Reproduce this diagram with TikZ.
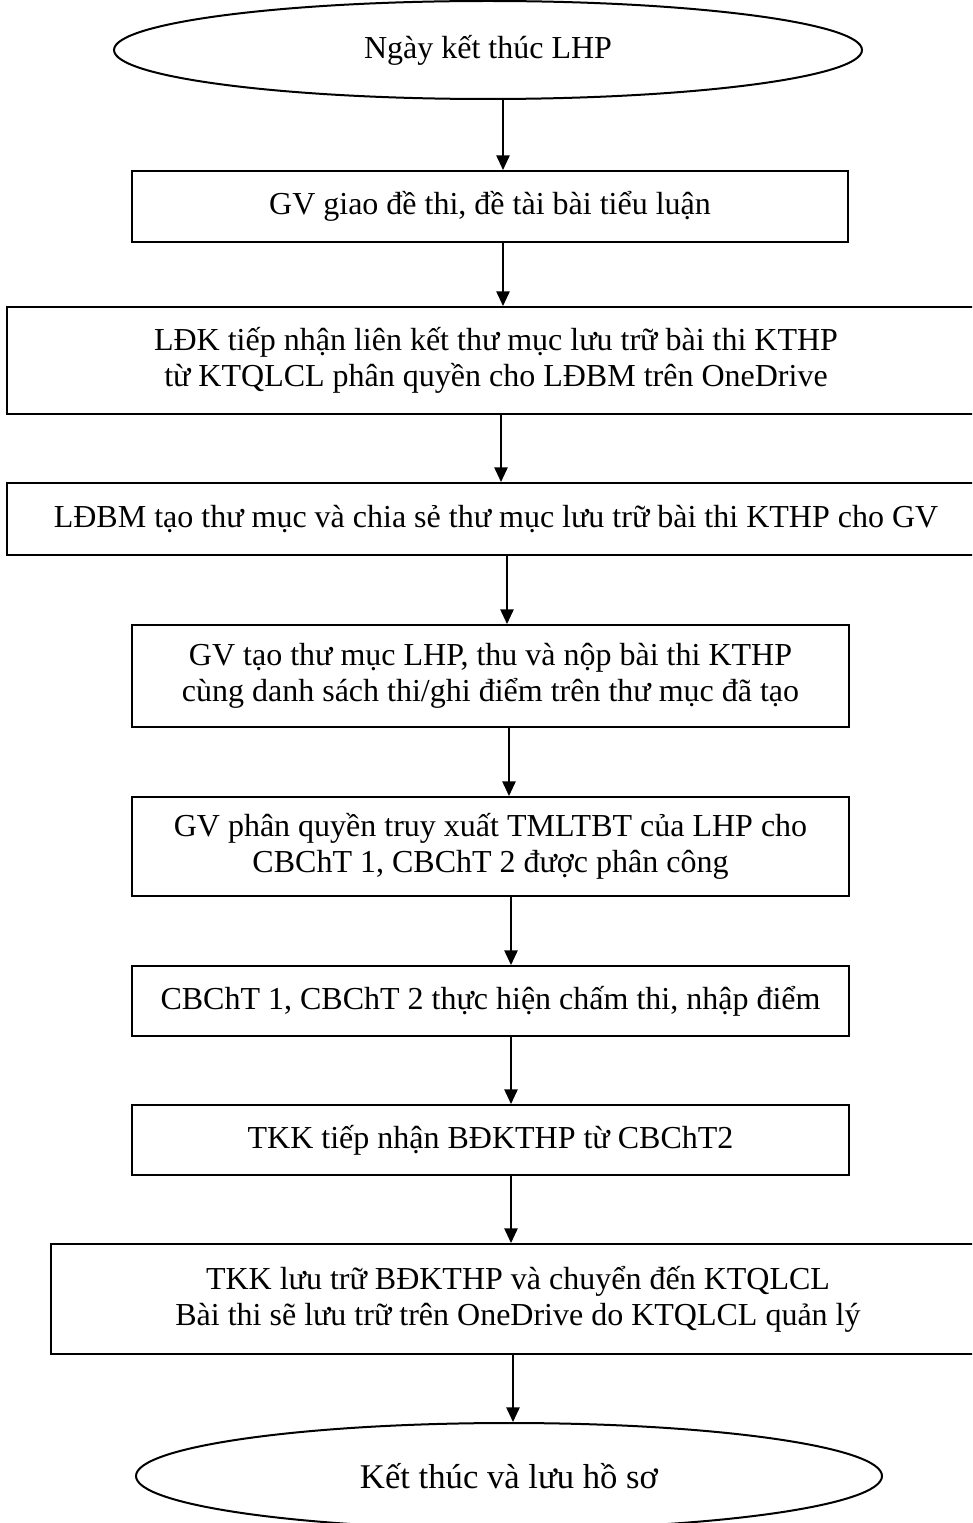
\documentclass[tikz,border=0pt]{standalone}
\usepackage{fontspec}
\setmainfont{Liberation Serif}
\usetikzlibrary{shapes.geometric,arrows.meta}
\begin{document}
\begin{tikzpicture}[x=0.75pt,y=-0.75pt,
  every node/.style={font=\fontsize{24}{27}\selectfont},
  stepbox/.style={draw,line width=1.5pt,rectangle,inner sep=0pt,align=center},
  termbox/.style={draw,line width=1.5pt,ellipse,inner sep=0pt,align=center},
  arr/.style={line width=1.2pt,-{Triangle[length=11pt,width=10pt]}}]
\clip (0,0) rectangle (972,1523);
\fill[white] (0,0) rectangle (972,1523);
\node[termbox,minimum width=561pt,minimum height=73.5pt] (e1) at (488,50) {Ngày kết thúc LHP};
\node[stepbox,minimum width=537pt,minimum height=53.25pt] (b2) at (490,206.5) {GV giao đề thi, đề tài bài tiểu luận};
\node[stepbox,minimum width=733.5pt,minimum height=80.25pt] (b3) at (496,360.5) {LĐK tiếp nhận liên kết thư mục lưu trữ bài thi KTHP\\từ KTQLCL phân quyền cho LĐBM trên OneDrive};
\node[stepbox,minimum width=733.5pt,minimum height=54pt] (b4) at (496,519) {LĐBM tạo thư mục và chia sẻ thư mục lưu trữ bài thi KTHP cho GV};
\node[stepbox,minimum width=537.75pt,minimum height=76.5pt] (b5) at (490.5,676) {GV tạo thư mục LHP, thu và nộp bài thi KTHP\\cùng danh sách thi/ghi điểm trên thư mục đã tạo};
\node[stepbox,minimum width=537.75pt,minimum height=74.25pt] (b6) at (490.5,846.5) {GV phân quyền truy xuất TMLTBT của LHP cho\\CBChT 1, CBChT 2 được phân công};
\node[stepbox,minimum width=537.75pt,minimum height=52.5pt] (b7) at (490.5,1001) {CBChT 1, CBChT 2 thực hiện chấm thi, nhập điểm};
\node[stepbox,minimum width=537.75pt,minimum height=52.5pt] (b8) at (490.5,1140) {TKK tiếp nhận BĐKTHP từ CBChT2};
\node[stepbox,minimum width=700.5pt,minimum height=82.5pt] (b9) at (518,1299) {TKK lưu trữ BĐKTHP và chuyển đến KTQLCL\\Bài thi sẽ lưu trữ trên OneDrive do KTQLCL quản lý};
\node[termbox,minimum width=559.5pt,minimum height=79.5pt,font=\fontsize{26}{29}\selectfont] (e2) at (509,1476) {Kết thúc và lưu hồ sơ};
\coordinate (x1) at (503,0);
\coordinate (x2) at (503,0);
\coordinate (x3) at (501,0);
\coordinate (x4) at (507,0);
\coordinate (x5) at (509,0);
\coordinate (x6) at (511,0);
\coordinate (x7) at (511,0);
\coordinate (x8) at (511,0);
\coordinate (x9) at (513,0);
\draw[arr] (e1.south -| x1) -- (b2.north -| x1);
\draw[arr] (b2.south -| x2) -- (b3.north -| x2);
\draw[arr] (b3.south -| x3) -- (b4.north -| x3);
\draw[arr] (b4.south -| x4) -- (b5.north -| x4);
\draw[arr] (b5.south -| x5) -- (b6.north -| x5);
\draw[arr] (b6.south -| x6) -- (b7.north -| x6);
\draw[arr] (b7.south -| x7) -- (b8.north -| x7);
\draw[arr] (b8.south -| x8) -- (b9.north -| x8);
\draw[arr] (b9.south -| x9) -- (e2.north -| x9);
\end{tikzpicture}
\end{document}
